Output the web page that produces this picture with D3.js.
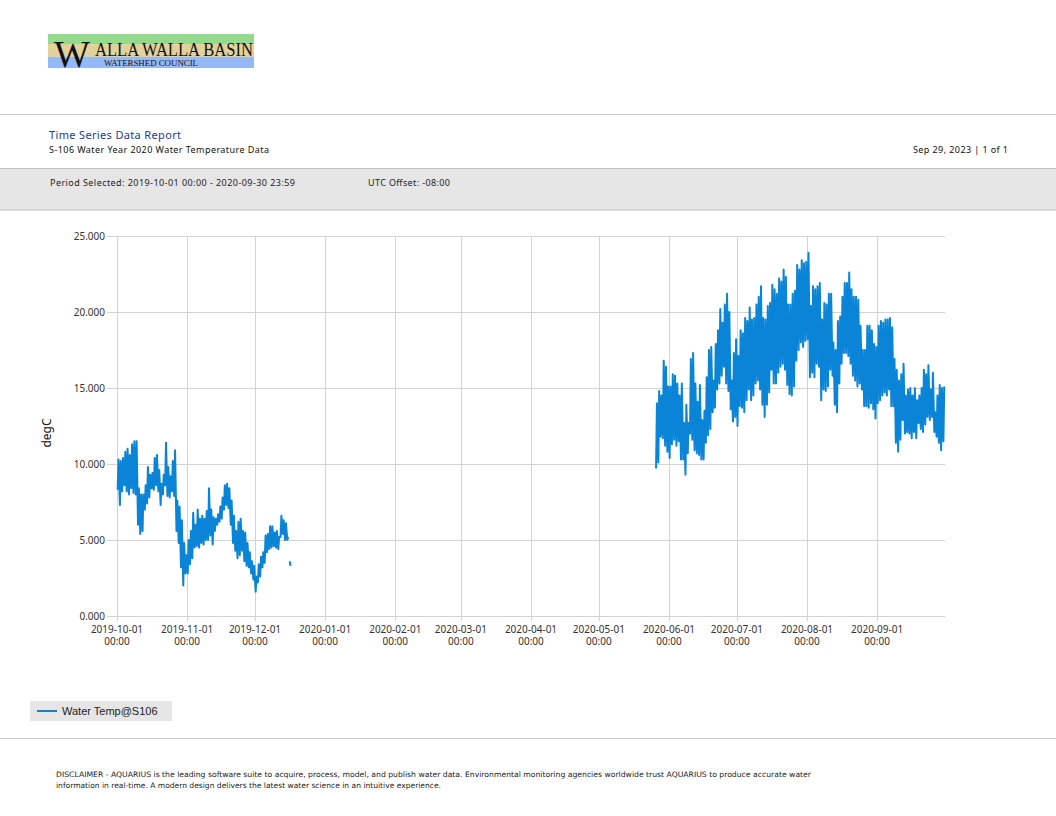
<!DOCTYPE html>
<html>
<head>
<meta charset="utf-8">
<script src="https://cdn.jsdelivr.net/npm/d3@7"></script>
<style>
  body { margin: 0; background: #fff; }
  svg { display: block; }
</style>
</head>
<body>
<svg id="chart" width="1056" height="816"></svg>
<script>
// daily low / high readings, one per day
const seg1Start = '2019-10-01';
const seg1Low = [8.3,7.3,8.2,8.6,8.2,8.0,8.4,8.1,8.0,6.0,
  5.4,5.6,7.0,7.4,7.8,8.4,8.3,8.6,8.2,7.3,
  8.0,8.6,7.9,7.8,8.2,7.9,5.6,4.8,3.2,2.0,
  2.8,2.8,3.4,3.8,4.5,4.6,4.5,4.8,4.7,5.0,
  5.0,5.3,4.7,5.6,6.0,6.2,6.4,7.0,7.3,7.1,
  6.0,4.8,4.3,3.8,4.0,4.3,3.6,3.3,3.2,2.8,
  2.4,1.6,2.2,2.6,3.2,3.5,4.2,4.4,4.5,4.6,
  4.5,4.4,5.2,5.4,5.0,5.0];
const seg1High = [10.3,10.2,10.4,10.8,11.0,10.6,11.3,11.5,11.5,8.4,
  8.0,8.0,8.6,9.8,9.3,9.4,10.4,10.6,9.6,8.7,
  9.3,11.4,9.8,9.2,10.2,10.9,7.6,7.2,6.3,4.8,
  4.0,5.0,5.6,6.8,6.0,7.0,6.4,6.6,6.4,6.9,
  8.4,7.0,6.5,6.4,6.7,7.2,7.8,8.6,8.7,8.4,
  7.6,6.6,5.6,6.2,6.4,5.6,5.5,4.8,4.2,3.6,
  3.3,2.6,3.4,3.9,4.2,5.3,5.4,5.9,5.9,5.5,
  5.6,5.2,6.6,6.3,6.1,5.2];

// short isolated piece after the first gap
const stubTimes = ['2019-12-16 10:00', '2019-12-16 16:00'];
const stubValues = [3.6, 3.3];

const seg2Start = '2020-05-26';
const seg2Low = [9.7,10.1,11.8,11.7,11.2,10.8,
  10.4,11.3,11.6,11.2,11.5,10.3,10.3,9.3,10.7,12.0,
  11.6,10.9,10.7,10.6,10.3,10.3,11.4,11.9,12.3,13.4,
  13.7,14.9,15.3,15.8,16.4,15.3,14.8,13.6,12.8,13.1,
  12.5,13.8,13.7,13.4,14.2,14.9,14.2,14.5,15.3,15.5,
  14.9,13.9,13.1,13.9,14.7,16.2,15.3,15.3,16.0,16.4,
  16.6,16.2,15.2,14.6,14.5,15.1,16.8,17.5,18.0,17.7,18.1,
  18.2,15.7,16.0,15.7,16.6,16.4,14.2,14.9,14.8,15.1,
  16.2,15.8,13.9,13.4,15.3,16.6,17.3,17.3,17.1,16.6,
  15.8,15.5,15.1,15.3,14.9,13.8,13.8,13.7,14.0,13.6,13.0,
  14.0,14.2,14.5,14.7,14.5,14.9,13.8,13.8,11.4,10.8,
  11.6,12.9,12.0,12.1,12.0,11.7,12.1,11.7,12.7,12.3,
  12.1,12.6,13.1,12.9,13.1,12.1,11.8,11.4,10.9,11.5];
const seg2High = [14.0,14.8,14.5,16.8,16.4,15.1,
  15.1,15.9,15.8,15.3,14.5,15.3,12.7,13.9,12.7,16.9,
  17.3,15.3,14.1,15.2,12.9,13.5,15.7,17.5,17.7,15.5,
  17.9,18.8,20.2,19.3,20.5,21.2,20.0,15.5,17.3,18.2,
  17.1,18.8,18.6,19.6,19.4,20.3,19.5,19.6,20.5,21.0,
  21.7,19.6,19.5,20.4,20.6,21.8,21.5,21.2,22.2,22.0,
  22.8,22.3,20.5,20.5,21.2,21.4,23.1,22.8,23.4,23.2,23.3,
  23.9,20.4,21.7,21.5,21.7,21.9,19.5,20.6,20.5,21.2,
  21.2,18.0,17.5,19.4,19.7,21.0,21.9,21.9,22.6,21.5,
  21.0,21.0,20.8,19.1,17.5,17.5,19.1,19.1,18.8,17.9,17.7,
  19.1,19.4,19.3,19.5,19.5,19.6,19.0,16.9,16.2,15.5,
  15.9,16.6,14.5,14.9,15.0,14.5,15.0,14.2,14.5,15.0,
  16.2,15.9,16.5,14.9,16.0,13.4,14.5,15.2,15.0,15.1];

const yTicks = [0, 5, 10, 15, 20, 25];
const periodStart = '2019-10-01';
const periodEnd = '2020-10-01';

const parseDay = d3.timeParse('%Y-%m-%d');
const parseTime = d3.timeParse('%Y-%m-%d %H:%M');

function dailyPoints(start, lows, highs) {
  const day0 = parseDay(start);
  const pts = [];
  lows.forEach((lo, i) => {
    const day = d3.timeDay.offset(day0, i);
    pts.push({ t: d3.timeHour.offset(day, 7), v: lo });
    pts.push({ t: d3.timeHour.offset(day, 16), v: highs[i] });
  });
  return pts;
}

const segments = [
  dailyPoints(seg1Start, seg1Low, seg1High),
  stubTimes.map((s, i) => ({ t: parseTime(s), v: stubValues[i] })),
  dailyPoints(seg2Start, seg2Low, seg2High),
];

const svg = d3.select('#chart');
const ui = 'Noto Sans, DejaVu Sans, sans-serif';
const serif = 'Liberation Serif, DejaVu Serif, serif';

// ---- logo
const logo = svg.append('g');
logo.append('rect').attr('x', 48).attr('y', 34).attr('width', 206).attr('height', 10).attr('fill', '#93da8c');
logo.append('rect').attr('x', 48).attr('y', 44).attr('width', 206).attr('height', 13).attr('fill', '#e2d29a');
logo.append('rect').attr('x', 48).attr('y', 57).attr('width', 206).attr('height', 11).attr('fill', '#94b9f6');
logo.append('text').attr('x', 54).attr('y', 67).text('W')
  .style('font-family', serif).style('font-size', '38px').style('fill', '#111');
logo.append('text').attr('x', 95).attr('y', 56).text('ALLA WALLA BASIN')
  .attr('textLength', 158).attr('lengthAdjust', 'spacingAndGlyphs')
  .style('font-family', serif).style('font-size', '18.5px').style('fill', '#111');
logo.append('text').attr('x', 104).attr('y', 66).text('WATERSHED COUNCIL')
  .attr('textLength', 94).attr('lengthAdjust', 'spacingAndGlyphs')
  .style('font-family', serif).style('font-size', '8px').style('fill', '#111');

// ---- header
svg.append('line').attr('x1', 0).attr('x2', 1056).attr('y1', 114.5).attr('y2', 114.5).attr('stroke', '#c8c8c8');
svg.append('text').attr('x', 49).attr('y', 139).text('Time Series Data Report')
  .attr('textLength', 132).style('font-family', ui).style('font-size', '11px').style('fill', '#1d3a94');
svg.append('text').attr('x', 49).attr('y', 153).text('S-106 Water Year 2020 Water Temperature Data')
  .attr('textLength', 220).style('font-family', ui).style('font-size', '9px').style('fill', '#111');
svg.append('text').attr('x', 1008).attr('y', 153).attr('text-anchor', 'end').text('Sep 29, 2023 | 1 of 1')
  .attr('textLength', 95).style('font-family', ui).style('font-size', '9px').style('fill', '#111');

svg.append('rect').attr('x', -1).attr('y', 168.5).attr('width', 1058).attr('height', 41.5)
  .attr('fill', '#e6e6e6').attr('stroke', '#c0c0c0');
svg.append('text').attr('x', 50).attr('y', 186).text('Period Selected: 2019-10-01 00:00 - 2020-09-30 23:59')
  .attr('textLength', 245).style('font-family', ui).style('font-size', '9px').style('fill', '#222');
svg.append('text').attr('x', 368).attr('y', 186).text('UTC Offset: -08:00')
  .attr('textLength', 82).style('font-family', ui).style('font-size', '9px').style('fill', '#222');

// ---- chart
const x = d3.scaleTime().domain([parseDay(periodStart), parseDay(periodEnd)]).range([117, 945]);
const y = d3.scaleLinear().domain([0, 25]).range([616, 236]);
const months = d3.timeMonth.range(parseDay(periodStart), parseDay(periodEnd));

const grid = svg.append('g');
grid.selectAll('.hg').data(yTicks).join('line')
  .attr('x1', 107).attr('x2', 945)
  .attr('y1', (d) => Math.round(y(d)) + 0.5).attr('y2', (d) => Math.round(y(d)) + 0.5)
  .attr('stroke', '#d3d3d3');
grid.selectAll('.vg').data(months).join('line')
  .attr('x1', (d) => Math.round(x(d)) + 0.5).attr('x2', (d) => Math.round(x(d)) + 0.5)
  .attr('y1', 236).attr('y2', 621)
  .attr('stroke', '#d3d3d3');

svg.append('g').selectAll('text').data(yTicks).join('text')
  .attr('x', 105).attr('y', (d) => y(d) + 3.5).attr('text-anchor', 'end')
  .text(d3.format('.3f'))
  .style('font-family', ui).style('font-size', '10px').style('fill', '#333');

const fmtDay = d3.timeFormat('%Y-%m-%d');
const xl = svg.append('g').selectAll('text').data(months).join('text')
  .attr('text-anchor', 'middle')
  .style('font-family', ui).style('font-size', '10px').style('fill', '#333');
xl.append('tspan').attr('x', (d) => x(d)).attr('y', 633).text(fmtDay);
xl.append('tspan').attr('x', (d) => x(d)).attr('y', 645).text('00:00');

svg.append('text').attr('transform', 'translate(51,433) rotate(-90)').attr('text-anchor', 'middle')
  .text('degC').style('font-family', ui).style('font-size', '12px').style('fill', '#111');

const line = d3.line().x((d) => x(d.t)).y((d) => y(d.v));
svg.append('g').selectAll('path').data(segments).join('path')
  .attr('d', line)
  .attr('fill', 'none').attr('stroke', '#0a84d6').attr('stroke-width', 2).attr('stroke-linejoin', 'round');

// ---- legend
svg.append('rect').attr('x', 30).attr('y', 701).attr('width', 142).attr('height', 20).attr('fill', '#e6e6e6');
svg.append('line').attr('x1', 37).attr('x2', 57).attr('y1', 711).attr('y2', 711).attr('stroke', '#0a84d6').attr('stroke-width', 2);
svg.append('text').attr('x', 62).attr('y', 715).text('Water Temp@S106')
  .style('font-family', 'Liberation Sans, Arial, sans-serif').style('font-size', '11px').style('fill', '#222');

// ---- footer
svg.append('line').attr('x1', 0).attr('x2', 1056).attr('y1', 738.5).attr('y2', 738.5).attr('stroke', '#c8c8c8');
svg.append('text').attr('x', 56).attr('y', 777)
  .text('DISCLAIMER - AQUARIUS is the leading software suite to acquire, process, model, and publish water data. Environmental monitoring agencies worldwide trust AQUARIUS to produce accurate water')
  .attr('textLength', 755).attr('lengthAdjust', 'spacingAndGlyphs')
  .style('font-family', 'DejaVu Sans Condensed, DejaVu Sans, sans-serif').style('font-size', '7.5px').style('fill', '#222');
svg.append('text').attr('x', 56).attr('y', 788)
  .text('information in real-time. A modern design delivers the latest water science in an intuitive experience.')
  .attr('textLength', 385).attr('lengthAdjust', 'spacingAndGlyphs')
  .style('font-family', 'DejaVu Sans Condensed, DejaVu Sans, sans-serif').style('font-size', '7.5px').style('fill', '#222');
</script>
</body>
</html>
